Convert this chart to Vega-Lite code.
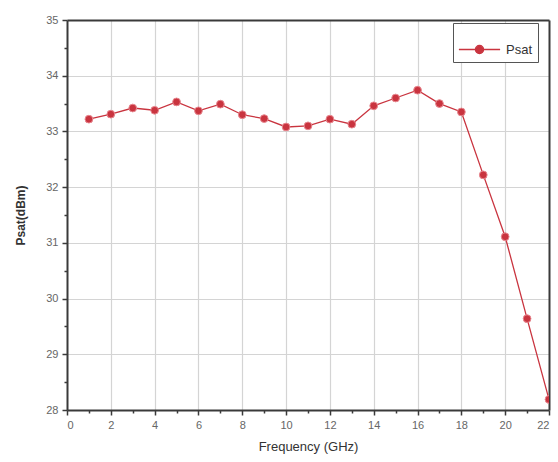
{
  "$schema": "https://vega.github.io/schema/vega-lite/v6.json",
  "width": 482,
  "height": 390,
  "autosize": {"type": "none"},
  "padding": {"left": 67, "top": 20, "right": 9, "bottom": 52},
  "background": "white",
  "config": {
    "view": {"stroke": null},
    "axis": {
      "labelFont": "Liberation Sans",
      "titleFont": "Liberation Sans",
      "labelColor": "#666",
      "labelFontSize": 11,
      "domainColor": "#3a3a3a",
      "domainWidth": 2,
      "tickColor": "#3a3a3a",
      "tickWidth": 1.5,
      "tickSize": 5,
      "gridColor": "#d4d4d4",
      "gridWidth": 1.2
    }
  },
  "data": {
    "values": [
      {"f": 1, "p": 33.22, "s": "Psat"},
      {"f": 2, "p": 33.31, "s": "Psat"},
      {"f": 3, "p": 33.42, "s": "Psat"},
      {"f": 4, "p": 33.38, "s": "Psat"},
      {"f": 5, "p": 33.53, "s": "Psat"},
      {"f": 6, "p": 33.37, "s": "Psat"},
      {"f": 7, "p": 33.49, "s": "Psat"},
      {"f": 8, "p": 33.30, "s": "Psat"},
      {"f": 9, "p": 33.23, "s": "Psat"},
      {"f": 10, "p": 33.08, "s": "Psat"},
      {"f": 11, "p": 33.10, "s": "Psat"},
      {"f": 12, "p": 33.22, "s": "Psat"},
      {"f": 13, "p": 33.13, "s": "Psat"},
      {"f": 14, "p": 33.46, "s": "Psat"},
      {"f": 15, "p": 33.60, "s": "Psat"},
      {"f": 16, "p": 33.74, "s": "Psat"},
      {"f": 17, "p": 33.50, "s": "Psat"},
      {"f": 18, "p": 33.35, "s": "Psat"},
      {"f": 19, "p": 32.22, "s": "Psat"},
      {"f": 20, "p": 31.11, "s": "Psat"},
      {"f": 21, "p": 29.64, "s": "Psat"},
      {"f": 22, "p": 28.19, "s": "Psat"}
    ]
  },
  "resolve": {"axis": {"x": "independent", "y": "independent"}},
  "layer": [
    {
      "mark": {"type": "line", "strokeWidth": 1.3, "clip": true},
      "encoding": {
        "x": {
          "field": "f", "type": "quantitative",
          "scale": {"domain": [0, 22], "nice": false},
          "axis": {
            "orient": "bottom",
            "values": [0,1,2,3,4,5,6,7,8,9,10,11,12,13,14,15,16,17,18,19,20,21,22],
            "labelExpr": "datum.value % 2 === 0 ? format(datum.value, 'd') : ''",
            "tickSize": {"condition": {"test": "datum.value % 2 === 0", "value": 5}, "value": 3},
            "gridOpacity": {"condition": {"test": "datum.value % 2 === 0 && datum.value > 0 && datum.value < 22", "value": 1}, "value": 0},
            "title": "Frequency (GHz)", "titleFontSize": 13, "titleFontWeight": "normal", "titleColor": "#333", "titlePadding": 10, "labelPadding": 4
          }
        },
        "y": {
          "field": "p", "type": "quantitative",
          "scale": {"domain": [28, 35], "nice": false},
          "axis": {
            "orient": "left",
            "values": [28,28.5,29,29.5,30,30.5,31,31.5,32,32.5,33,33.5,34,34.5,35],
            "labelExpr": "datum.value % 1 === 0 ? format(datum.value, 'd') : ''",
            "tickSize": {"condition": {"test": "datum.value % 1 === 0", "value": 5}, "value": 3},
            "gridOpacity": {"condition": {"test": "datum.value % 1 === 0 && datum.value > 28 && datum.value < 35", "value": 1}, "value": 0},
            "title": "Psat(dBm)", "titleFontSize": 12, "titleFontWeight": "bold", "titleColor": "#333", "titlePadding": 18, "labelPadding": 4
          }
        },
        "color": {
          "field": "s", "type": "nominal",
          "scale": {"range": ["#c9343f"]},
          "legend": {
            "title": null,
            "orient": "none",
            "legendX": 386,
            "legendY": 3,
            "strokeColor": "#555",
            "fillColor": "white",
            "padding": 5,
            "labelFont": "Liberation Sans",
            "labelFontSize": 13,
            "labelColor": "#333",
            "labelOffset": 5,
            "symbolType": "M-1,0L1,0M0.2,0A0.2,0.2,0,1,1,-0.2,0A0.2,0.2,0,1,1,0.2,0Z",
            "symbolSize": 1700,
            "symbolStrokeWidth": 1.3,
            "symbolFillColor": "#c9343f"
          }
        }
      }
    },
    {
      "mark": {"type": "point", "filled": true, "size": 60, "stroke": "#e88890", "strokeWidth": 1, "opacity": 1, "clip": true},
      "encoding": {
        "x": {
          "field": "f", "type": "quantitative",
          "scale": {"domain": [0, 22], "nice": false},
          "axis": {"orient": "top", "labels": false, "ticks": false, "grid": false, "domain": true, "title": null, "domainColor": "#3a3a3a", "domainWidth": 2}
        },
        "y": {
          "field": "p", "type": "quantitative",
          "scale": {"domain": [28, 35], "nice": false},
          "axis": {"orient": "right", "labels": false, "ticks": false, "grid": false, "domain": true, "title": null, "domainColor": "#3a3a3a", "domainWidth": 2}
        },
        "color": {"field": "s", "type": "nominal", "scale": {"range": ["#c9343f"]}, "legend": null}
      }
    }
  ]
}
